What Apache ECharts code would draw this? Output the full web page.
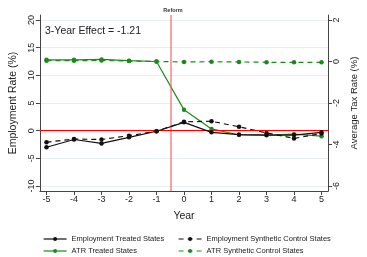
<!DOCTYPE html>
<html><head><meta charset="utf-8">
<script src="https://cdn.jsdelivr.net/npm/echarts@6/dist/echarts.min.js"></script>
<style>html,body{margin:0;padding:0;background:#fff}#c{width:367px;height:257px}</style>
</head><body><div id="c"></div>
<script>
var years = [-5,-4,-3,-2,-1,0,1,2,3,4,5];
var empTreated = [-3.0,-1.6,-2.3,-1.2,-0.1,1.5,-0.3,-0.7,-0.8,-0.8,-0.3];
var empSynth = [-2.1,-1.5,-1.6,-0.9,-0.1,1.6,1.7,0.7,-0.4,-1.4,-0.5];
var atrTreated = [0.08,0.08,0.1,0.04,0.0,-2.33,-3.25,-3.54,-3.55,-3.5,-3.6];
var atrSynth = [0.04,0.04,0.05,0.02,0.0,-0.02,-0.01,-0.02,-0.04,-0.04,-0.04];
var xTicks = [-5,-4,-3,-2,-1,0,1,2,3,4,5];
var leftTicks = [-10,-5,0,5,10,15,20];
var rightTicks = [-6,-4,-2,0,2];
var reformYear = -0.5;
var effectText = '3-Year Effect = -1.21';

function pairs(v){ return years.map(function(y,i){ return [y, v[i]]; }); }
var FONT = 'Liberation Sans, Arial, sans-serif';
var GREEN = '#1b8a1b';
var chart = echarts.init(document.getElementById('c'));
var axisLineStyle = {color:'#444', width:1};
var legendBase = {itemWidth:23, itemHeight:5, itemGap:4, textStyle:{fontFamily:FONT,fontSize:7.5,color:'#222'}, lineStyle:{width:1.2}};
chart.setOption({
  animation:false,
  backgroundColor:'#fff',
  grid:{left:36,right:28,top:15,bottom:66},
  xAxis:{type:'value',min:-5.24,max:5.24,
    name:'Year',nameLocation:'middle',nameGap:20,nameTextStyle:{fontFamily:FONT,fontSize:10.5,color:'#222'},
    axisLine:{show:true,onZero:false,lineStyle:axisLineStyle},
    axisTick:{show:true,length:4,customValues:xTicks,lineStyle:{color:'#444'}},
    axisLabel:{customValues:xTicks,fontFamily:FONT,fontSize:9,color:'#222',margin:4},
    splitLine:{show:false}},
  yAxis:[{type:'value',min:-10.9,max:20.9,position:'left',
    name:'Employment Rate (%)',nameLocation:'middle',nameGap:19,nameRotate:90,nameTextStyle:{fontFamily:FONT,fontSize:10.5,color:'#222'},
    axisLine:{show:true,onZero:false,lineStyle:axisLineStyle},
    axisTick:{show:true,length:4,customValues:leftTicks,lineStyle:{color:'#444'}},
    axisLabel:{customValues:leftTicks,rotate:90,fontFamily:FONT,fontSize:9,color:'#222',margin:4},
    splitLine:{show:true,lineStyle:{color:'#e6eef2',width:1}}},
   {type:'value',min:-6.24,max:2.24,position:'right',
    name:'Average Tax Rate (%)',nameLocation:'middle',nameGap:15,nameRotate:90,nameTextStyle:{fontFamily:FONT,fontSize:9.5,color:'#222'},
    axisLine:{show:true,onZero:false,lineStyle:axisLineStyle},
    axisTick:{show:true,length:4,customValues:rightTicks,lineStyle:{color:'#444'}},
    axisLabel:{customValues:rightTicks,rotate:90,fontFamily:FONT,fontSize:9,color:'#222',margin:4},
    splitLine:{show:false}}],
  legend:[
    Object.assign({left:38,top:230,data:['Employment Treated States']},legendBase),
    Object.assign({left:38,top:242,data:['ATR Treated States']},legendBase),
    Object.assign({left:173,top:230,data:['Employment Synthetic Control States']},legendBase),
    Object.assign({left:173,top:242,data:['ATR Synthetic Control States']},legendBase)
  ],
  graphic:[
    {type:'text',left:45,top:26,style:{text:effectText,font:'10.5px '+FONT,fill:'#222'}},
    {type:'text',x:173,y:10,style:{text:'Reform',font:'bold 5.5px '+FONT,fill:'#333',align:'center',verticalAlign:'middle'}}
  ],
  series:[
    {name:'ATR Synthetic Control States',type:'line',yAxisIndex:1,data:pairs(atrSynth),
      symbol:'circle',symbolSize:4.5,itemStyle:{color:GREEN},lineStyle:{color:GREEN,width:1.2,type:[5,4]},z:2},
    {name:'ATR Treated States',type:'line',yAxisIndex:1,data:pairs(atrTreated),
      symbol:'circle',symbolSize:4.5,itemStyle:{color:GREEN},lineStyle:{color:GREEN,width:1.2},z:3,
      markLine:{silent:true,symbol:'none',label:{show:false},lineStyle:{color:'rgba(250,90,90,0.75)',width:1.5,type:'solid'},data:[{xAxis:reformYear}]}},
    {name:'Employment Synthetic Control States',type:'line',data:pairs(empSynth),
      symbol:'circle',symbolSize:4.5,itemStyle:{color:'#111'},lineStyle:{color:'#111',width:1.2,type:[5,4]},z:4},
    {name:'Employment Treated States',type:'line',data:pairs(empTreated),
      symbol:'circle',symbolSize:4.5,itemStyle:{color:'#111'},lineStyle:{color:'#111',width:1.2},z:5,
      markLine:{silent:true,symbol:'none',label:{show:false},lineStyle:{color:'#ff0000',width:1.2,type:'solid'},data:[{yAxis:0}]}}
  ]
});
</script></body></html>
